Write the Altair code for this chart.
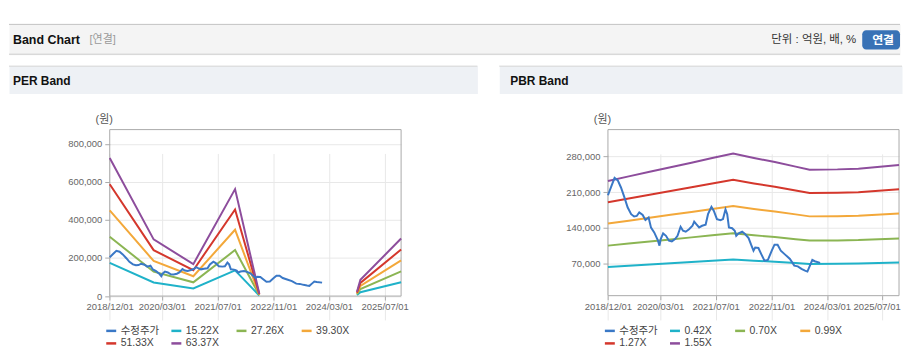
import altair as alt
import pandas as pd

FONT = "'Liberation Sans', 'Noto Sans CJK KR', sans-serif"

# ---------------- texts ----------------
title_text = "Band Chart"
title_sub = "[연결]"
unit_text = "단위 : 억원, 배, %"
button_text = "연결"
per_title = "PER Band"
pbr_title = "PBR Band"
y_title = "(원)"
price_name = "수정주가"

# ---------------- axis ticks ----------------
x_ticks = ["2018-12-01", "2020-03-01", "2021-07-01", "2022-11-01", "2024-03-01", "2025-07-01"]
x_start = "2018-12-01"
x_end = "2025-11-22"
per_y_ticks = [0, 200000, 400000, 600000, 800000]
per_y_domain = [0, 875000]
pbr_y_ticks = [70000, 140000, 210000, 280000]
pbr_y_domain = [6300, 332800]

# ---------------- price (수정주가) ----------------
price_dates = [
    "2018-12-01", "2019-01-01", "2019-01-28", "2019-02-25", "2019-03-25", "2019-04-25",
    "2019-05-22", "2019-06-22", "2019-07-18", "2019-08-10", "2019-09-01", "2019-10-01",
    "2019-10-25", "2019-11-22", "2019-12-13", "2020-01-10", "2020-02-10", "2020-02-25",
    "2020-03-07", "2020-03-28", "2020-04-22", "2020-05-18", "2020-06-12", "2020-07-10",
    "2020-08-01", "2020-08-28", "2020-09-18", "2020-10-12", "2020-11-10", "2020-12-10",
    "2020-12-25", "2021-01-12", "2021-02-06", "2021-03-04", "2021-04-04", "2021-04-25",
    "2021-05-25", "2021-06-15", "2021-07-12", "2021-08-12", "2021-09-03", "2021-09-25",
    "2021-10-10", "2021-10-25", "2021-11-22", "2021-12-15", "2021-12-28", "2022-01-18",
    "2022-02-18", "2022-03-15", "2022-04-15", "2022-05-07", "2022-05-28", "2022-06-12",
    "2022-07-10", "2022-08-04", "2022-09-01", "2022-10-01", "2022-11-04", "2022-11-28",
    "2022-12-25", "2023-01-22", "2023-03-01", "2023-04-12", "2023-05-20", "2023-06-20",
    "2023-07-22", "2023-08-22", "2023-09-12", "2023-10-04", "2023-10-25", "2023-11-15",
    "2024-01-01",
]
price_values = [
    203700, 222000, 238000, 233000, 219000, 199000,
    180000, 166500, 162000, 163000, 170000, 165000,
    155000, 160000, 140000, 130700, 115700, 104600,
    117600, 128700, 124000, 114400, 113000, 117600,
    124000, 141800, 134000, 132000, 137000, 143700,
    152000, 147000, 140500, 143700, 145700, 166500,
    181000, 173000, 156800, 154800, 156800, 176000,
    166500, 140500, 139000, 134000, 124000, 128700,
    132000, 127400, 119600, 106500, 94800, 101000,
    100000, 88000, 75000, 76500, 94800, 106500,
    106500, 94800, 87000, 78500, 65400, 64000,
    59000, 55600, 53700, 65400, 76500, 74000,
    70700,
]

# ---------------- PER bands ----------------
per_band_names = ["15.22X", "27.26X", "39.30X", "51.33X", "63.37X"]
per_dates = ["2018-12-01", "2019-12-20", "2020-12-01", "2021-12-01", "2022-07-01",
             "2024-11-01", "2024-12-01", "2025-11-22"]
per_segment = [0, 0, 0, 0, 0, 1, 1, 1]
per_1522 = [174300, 71500, 40300, 135000, 3000, 5300, 20500, 72600]
per_2726 = [312100, 128100, 72200, 241800, 5500, 9500, 36800, 130000]
per_3930 = [450000, 184700, 104100, 348600, 7900, 13800, 53100, 187500]
per_5133 = [587700, 241300, 136000, 455300, 10300, 18000, 69300, 244800]
per_6337 = [725600, 297800, 167900, 562100, 12700, 22200, 85500, 302300]

# ---------------- PBR bands ----------------
pbr_band_names = ["0.42X", "0.70X", "0.99X", "1.27X", "1.55X"]
pbr_dates = ["2018-12-01", "2019-06-01", "2019-12-01", "2020-06-01", "2020-12-01",
             "2021-06-01", "2021-12-01", "2022-06-01", "2022-12-01", "2023-06-01",
             "2023-10-01", "2024-06-01", "2024-12-01", "2025-11-22"]
pbr_042 = [62800, 65300, 67700, 70100, 72600, 75000, 77400, 75100, 72900, 70500, 68800, 69000, 69400, 71300]
pbr_070 = [104700, 108800, 112800, 116900, 120900, 125000, 129100, 125100, 121500, 117400, 114700, 115000, 115600, 118800]
pbr_099 = [148000, 153800, 159500, 165300, 171000, 176800, 182500, 176900, 171800, 166100, 162200, 162600, 163500, 168000]
pbr_127 = [189900, 197300, 204700, 212100, 219400, 226800, 234200, 227000, 220400, 213000, 208100, 208600, 209800, 215500]
pbr_155 = [231800, 240800, 249800, 258800, 267800, 276800, 285800, 277000, 269000, 260000, 254000, 254600, 256000, 263000]

series_colors = ["#3a78c6", "#1fb2c9", "#8bb553", "#f3a83a", "#d4372c", "#8d4d9c"]

# ---------------- tables ----------------
def band_table(dates, segs, names, cols):
    rows = []
    for name, vals in zip(names, cols):
        for d, s, v in zip(dates, segs, vals):
            rows.append({"date": d, "value": v, "series": name, "seg": s})
    return pd.DataFrame(rows)

per_df = band_table(per_dates, per_segment, per_band_names,
                    [per_1522, per_2726, per_3930, per_5133, per_6337])
pbr_df = band_table(pbr_dates, [0] * len(pbr_dates), pbr_band_names,
                    [pbr_042, pbr_070, pbr_099, pbr_127, pbr_155])
price_df = pd.DataFrame({"date": price_dates, "value": price_values, "series": price_name})


def dt(s):
    return alt.DateTime(year=int(s[:4]), month=int(s[5:7]), date=int(s[8:10]), utc=True)


BODY_H = 264
STRIP_H = 28


def body(bands_df, names, y_domain, y_ticks, width, xr, yr, legend_x, legend_y, last_shift):
    frame_df = pd.DataFrame({"date": [x_start], "date2": [x_end],
                             "value": [y_domain[0]], "value2": [y_domain[1]]})
    xs = alt.Scale(type="utc", domain=[dt(x_start), dt(x_end)], range=xr, nice=False)
    ys = alt.Scale(domain=y_domain, range=yr, nice=False, zero=False)
    x_axis = alt.Axis(values=[dt(s) for s in x_ticks], format="%Y/%m/%d", labelFlush=False,
                      labelOverlap=False, title=None, offset=yr[0] - BODY_H, domain=False,
                      tickSize=4, tickColor="#aaaaaa", grid=True, gridColor="#e8e8e8",
                      labelFont=FONT, labelFontSize=9.5, labelColor="#666666", labelPadding=2,
                      labelOffset={"condition": {"test": "utcyear(datum.value) == 2025",
                                                 "value": last_shift}, "value": 0})
    y_axis = alt.Axis(values=y_ticks, format=",.0f", title=y_title, titleAngle=0, titleX=-6, titleY=26,
                      titleAlign="center", titleBaseline="middle", titleFont=FONT, titleFontSize=11,
                      titleColor="#555555", titleFontWeight="normal", offset=-xr[0], domain=False,
                      tickSize=5, tickColor="#aaaaaa", grid=True, gridColor="#e8e8e8",
                      labelFont=FONT, labelFontSize=9.5, labelColor="#666666", labelPadding=3)
    color = alt.Color("series:N",
                      scale=alt.Scale(domain=[price_name] + names, range=series_colors),
                      legend=alt.Legend(orient="none", legendX=legend_x, legendY=legend_y,
                                        direction="horizontal", columns=4,
                                        symbolType="stroke", symbolStrokeWidth=2.5, symbolSize=100,
                                        labelFont=FONT, labelFontSize=10.5, labelColor="#444444",
                                        title=None, columnPadding=6.5, rowPadding=0.6,
                                        gridAlign="all", labelOffset=3))
    frame = alt.Chart(frame_df).mark_rect(fill="transparent", stroke="#a9a9a9", strokeWidth=1).encode(
        x2="date2:T", y2="value2:Q")
    bands = alt.Chart(bands_df).mark_line(strokeWidth=2).encode(color=color, detail="seg:N")
    price = alt.Chart(price_df).mark_line(strokeWidth=2).encode(color=color)
    return alt.layer(frame, bands, price).encode(
        x=alt.X("date:T", scale=xs, axis=x_axis),
        y=alt.Y("value:Q", scale=ys, axis=y_axis),
    ).properties(width=width, height=BODY_H,
                 view=alt.ViewBackground(fill="#ffffff", stroke="transparent"))


def strip(text, width, tx):
    return alt.layer(
        alt.Chart().mark_rule(color="#d4d4d4").encode(x=alt.value(0), x2=alt.value(width), y=alt.value(0.5)),
        alt.Chart().mark_text(text=text, font=FONT, fontSize=12, fontWeight="bold", color="#111111",
                              align="left", baseline="middle").encode(x=alt.value(tx), y=alt.value(15.5)),
    ).properties(width=width, height=STRIP_H,
                 view=alt.ViewBackground(fill="#eef1f5", stroke="transparent"))


W = 896
header = alt.layer(
    alt.Chart().mark_rule(color="#c2c2c2").encode(x=alt.value(0), x2=alt.value(W), y=alt.value(0.5)),
    alt.Chart().mark_rule(color="#cdcdcd").encode(x=alt.value(0), x2=alt.value(W), y=alt.value(30.5)),
    alt.Chart().mark_text(text=title_text, font=FONT, fontSize=12.5, fontWeight="bold", color="#111111",
                          align="left", baseline="middle").encode(x=alt.value(4), y=alt.value(16.3)),
    alt.Chart().mark_text(text=title_sub, font=FONT, fontSize=11, color="#999999",
                          align="left", baseline="middle").encode(x=alt.value(81), y=alt.value(16.3)),
    alt.Chart().mark_text(text=unit_text, font=FONT, fontSize=11.5, color="#333333",
                          align="right", baseline="middle").encode(x=alt.value(852), y=alt.value(16.3)),
    alt.Chart().mark_rect(color="#3872b6", cornerRadius=4).encode(
        x=alt.value(858), x2=alt.value(W), y=alt.value(6.3), y2=alt.value(25.7)),
    alt.Chart().mark_text(text=button_text, font=FONT, fontSize=12, fontWeight="bold", color="#ffffff",
                          align="center", baseline="middle").encode(x=alt.value(879), y=alt.value(16.3)),
).properties(width=W, height=31, view=alt.ViewBackground(fill="#f4f4f4", stroke="transparent"))

LW = 471
RW = W - LW - 20
LEG_Y = 330.7 - 64 - 6.5
per_body = body(per_df, per_band_names, per_y_domain, per_y_ticks, LW,
                [101.3, 394.3], [203.7, 36.3], 96.3, LEG_Y, 0)
pbr_body = body(pbr_df, pbr_band_names, pbr_y_domain, pbr_y_ticks, RW,
                [109.3, 402.0], [203.3, 36.3], 104.7, LEG_Y, -6)

left = alt.vconcat(strip(per_title, LW, 4), per_body, spacing=0, bounds="flush")
right = alt.vconcat(strip(pbr_title, RW, 11), pbr_body, spacing=0, bounds="flush")
panels = alt.hconcat(left, right, spacing=20, bounds="full").resolve_scale(
    x="independent", y="independent", color="independent")

chart = alt.vconcat(header, panels, spacing=11, bounds="flush").resolve_scale(
    color="independent"
).properties(
    padding={"left": 0, "top": 14, "right": 0, "bottom": 0}
).configure(font=FONT).configure_view(stroke="transparent")

chart.save("out.html", embed_options={"renderer": "svg", "actions": False})
